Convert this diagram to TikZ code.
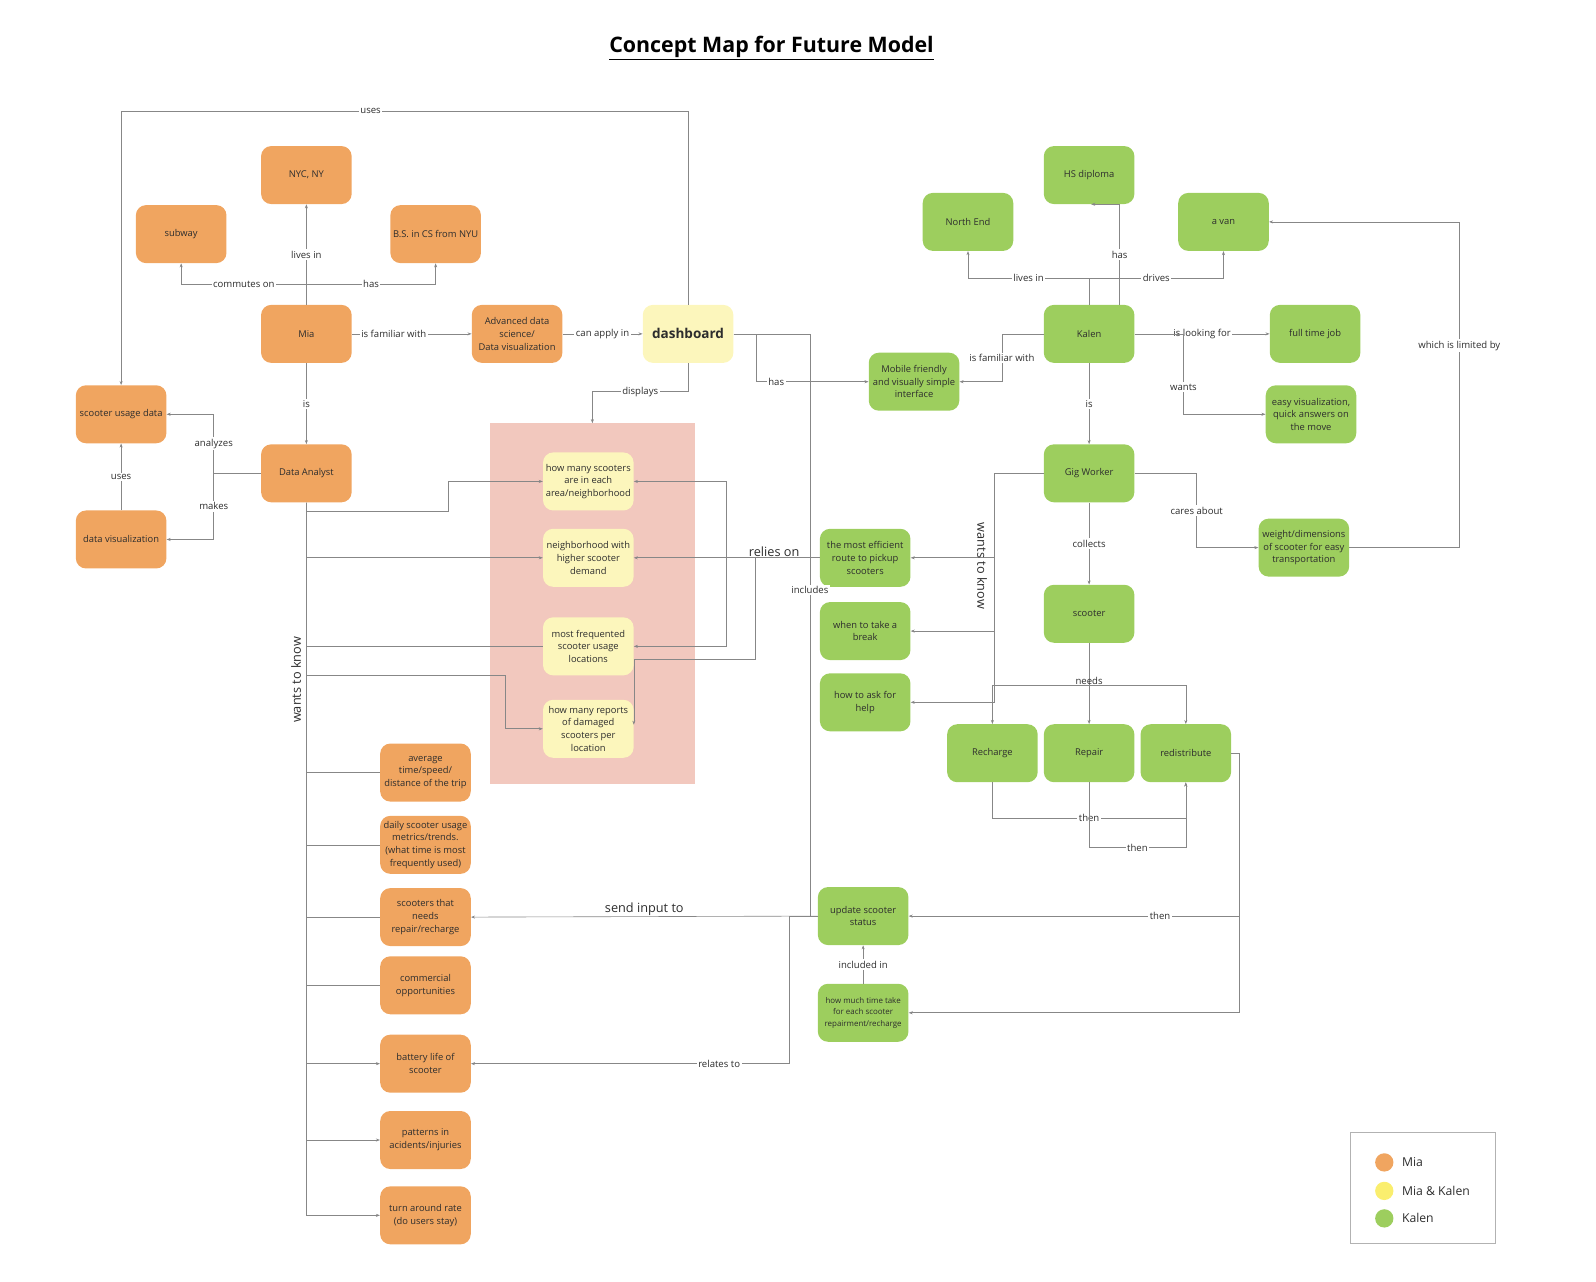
\documentclass[tikz,border=0pt]{standalone}
\usepackage{fontspec}
\setmainfont{Open Sans}
\usepackage{xcolor}
\usetikzlibrary{arrows.meta,calc}
\definecolor{miaorange}{RGB}{240,165,96}
\definecolor{bothyellow}{RGB}{252,246,188}
\definecolor{dotyellow}{RGB}{250,238,110}
\definecolor{kalengreen}{RGB}{157,206,94}
\definecolor{areapink}{RGB}{242,200,190}
\definecolor{linegray}{RGB}{135,135,135}
\definecolor{textgray}{RGB}{45,45,45}
\tikzset{
	concept/.style={
			rounded corners=10pt, minimum width=89pt, minimum height=57pt,
			inner sep=1pt, align=center, text=textgray,
			font=\fontsize{9.2}{12.5}\selectfont
		},
	miabox/.style={concept, fill=miaorange},
	bothbox/.style={concept, fill=bothyellow},
	kalenbox/.style={concept, fill=kalengreen}
}

\begin{document}
\begin{tikzpicture}[
    x=1pt, y=-1pt,
    con/.style={draw=linegray, line width=0.6pt},
    arr/.style={con, -{Stealth[length=4pt,width=3pt]}},
    lbl/.style={fill=white, inner sep=1.5pt, text=textgray, font=\fontsize{9.4}{11}\selectfont},
    biglbl/.style={inner sep=1pt, text=textgray, font=\fontsize{12.5}{15}\selectfont},
    dot/.style={circle, minimum size=18pt, inner sep=0pt},
    keytext/.style={anchor=west, text=textgray, font=\fontsize{12}{14}\selectfont, inner sep=0pt},
    ]
    \useasboundingbox (0,0) rectangle (1568,1259);

    \node[font=\bfseries\fontsize{21}{25}\selectfont] (title) at (758,47) {\underline{Concept Map for Future Model}};

    % Mia
    \node[miabox] (nyc) at (301,172) {NYC, NY};
    \node[miabox] (subway) at (178,230) {subway};
    \node[miabox] (bscs) at (428,230) {B.S. in CS from NYU};
    \node[miabox] (mia) at (301,328) {Mia};
    \node[miabox] (advds) at (508,328) {Advanced data\\science/\\Data visualization};
    \node[bothbox, font=\bfseries\fontsize{13.3}{15}\selectfont] (dash) at (676,328) {dashboard};
    \node[miabox] (sud) at (119,407) {scooter usage data};
    \node[miabox] (analyst) at (301,465) {Data Analyst};
    \node[miabox] (dviz) at (119,530) {data visualization};

    \node[fill=areapink, minimum width=202pt, minimum height=354pt] (area) at (582,593) {};
    \node[bothbox] (y1) at (578,473) {how many scooters\\are in each\\area/neighborhood};
    \node[bothbox] (y2) at (578,548) {neighborhood with\\higher scooter\\demand};
    \node[bothbox] (y3) at (578,635) {most frequented\\scooter usage\\locations};
    \node[bothbox] (y4) at (578,716) {how many reports\\of damaged\\scooters per\\location};

    \node[miabox] (o1) at (418,759) {average\\time/speed/\\distance of the trip};
    \node[miabox] (o2) at (418,830) {daily scooter usage\\metrics/trends.\\(what time is most\\frequently used)};
    \node[miabox] (o3) at (418,901) {scooters that\\needs\\repair/recharge};
    \node[miabox] (o4) at (418,968) {commercial\\opportunities};
    \node[miabox] (o5) at (418,1045) {battery life of\\scooter};
    \node[miabox] (o6) at (418,1120) {patterns in\\acidents/injuries};
    \node[miabox] (o7) at (418,1194) {turn around rate\\(do users stay)};

    % Kalen
    \node[kalenbox] (hsd) at (1070,172) {HS diploma};
    \node[kalenbox] (north) at (951,218) {North End};
    \node[kalenbox] (van) at (1202,218) {a van};
    \node[kalenbox] (kalen) at (1070,328) {Kalen};
    \node[kalenbox] (fulljob) at (1292,328) {full time job};
    \node[kalenbox] (mobile) at (898,375) {Mobile friendly\\and visually simple\\interface};
    \node[kalenbox] (easyvis) at (1288,407) {easy visualization,\\quick answers on\\the move};
    \node[kalenbox] (gig) at (1070,465) {Gig Worker};
    \node[kalenbox] (weight) at (1281,538) {weight/dimensions\\of scooter for easy\\transportation};
    \node[kalenbox] (route) at (850,548) {the most efficient\\route to pickup\\scooters};
    \node[kalenbox] (brk) at (850,620) {when to take a\\break};
    \node[kalenbox] (help) at (850,690) {how to ask for\\help};
    \node[kalenbox] (scooter) at (1070,603) {scooter};
    \node[kalenbox] (recharge) at (975,740) {Recharge};
    \node[kalenbox] (repair) at (1070,740) {Repair};
    \node[kalenbox] (redist) at (1165,740) {redistribute};
    \node[kalenbox] (update) at (848,900) {update scooter\\status};
    \node[kalenbox, font=\fontsize{7.8}{11}\selectfont] (timetake) at (848,995) {how much time take\\for each scooter\\repairment/recharge};

    % Mia connectors
    \draw[arr] (dash.north) -- ++(0,-190) -| node[lbl, pos=0.28] {uses} (sud.north);
    \draw[arr] (mia.north) -- node[lbl, pos=0.5] {lives in} (nyc.south);
    \coordinate (miaj) at (301,279);
    \draw[arr] (miaj) -| node[lbl, pos=0.25] {commutes on} (subway.south);
    \draw[arr] (miaj) -| node[lbl, pos=0.25] {has} (bscs.south);
    \draw[arr] (mia) -- node[lbl, pos=0.35] {is familiar with} (advds);
    \draw[arr] (advds) -- node[lbl] {can apply in} (dash);
    \draw[arr] (mia) -- node[lbl] {is} (analyst);
    \draw[arr] (dash.south) -- ++(0,28) -| node[lbl, pos=0.25] {displays} (area.north);
    \coordinate (anj) at (210,465);
    \draw[con] (analyst.west) -- (anj);
    \draw[arr] (anj) |- node[lbl, pos=0.25] {analyzes} (sud.east);
    \draw[arr] (anj) |- node[lbl, pos=0.25] {makes} (dviz.east);
    \draw[arr] (dviz) -- node[lbl] {uses} (sud);

    % wants to know
    \draw[arr] (analyst.south) -- ++(0,9) -- ++(139,0) |- (y1.west);
    \draw[arr] (analyst.south) |- (y2.west);
    \draw[con] (analyst.south) |- (y3.west);
    \draw[arr] (analyst.south) -- ++(0,170) -- ++(195,0) |- (y4.west);
    \draw[con] (analyst.south) |- (o1.west);
    \draw[con] (analyst.south) |- (o2.west);
    \draw[con] (analyst.south) |- (o3.west);
    \draw[con] (analyst.south) |- (o4.west);
    \draw[arr] (analyst.south) |- (o5.west);
    \draw[arr] (analyst.south) |- (o6.west);
    \draw[arr] (analyst.south) |- (o7.west);
    \node[biglbl, rotate=90] (wtkmia) at (291,668) {wants to know};

    % dashboard
    \draw[arr] (dash.east) -- ++(22,0) |- node[lbl, pos=0.59] {has} (mobile.west);
    \draw[con] (dash.east) -- ++(75,0) |- node[lbl, pos=0.22] {includes} (update.west);
    \draw[arr] (update.west) -- node[biglbl, above=0pt] {send input to} (o3.east);
    \draw[arr] (update.west) -- ++(-28,0) |- node[lbl, pos=0.61] {relates to} (o5.east);

    % relies on
    \draw[arr] (route.west) -- node[biglbl, above=0pt, pos=0.245] {relies on} (y2.east);
    \draw[arr] (route.west) -- ++(-92,0) |- (y1.east);
    \draw[arr] (route.west) -- ++(-92,0) |- (y3.east);
    \draw[arr] (route.west) -- ++(-63,0) -- ++(0,100) -| ([yshift=4pt]y4.east);

    % Kalen connectors
    \coordinate (kj) at (1070,273);
    \draw[con] (kalen.north) -- (kj);
    \draw[arr] (kj) -| node[lbl, pos=0.25] {lives in} (north.south);
    \draw[arr] (kj) -| node[lbl, pos=0.25] {drives} (van.south);
    \draw[arr] ([xshift=30pt]kalen.north) |- node[lbl, pos=0.25] {has} ([xshift=2pt]hsd.south);
    \draw[arr] (kalen.west) -- ++(-41,0) |- node[lbl, pos=0.25] {is familiar with} (mobile.east);
    \draw[arr] (kalen) -- node[lbl] {is looking for} (fulljob);
    \draw[arr] (kalen.east) -- ++(48,0) |- node[lbl, pos=0.33] {wants} (easyvis.west);
    \draw[arr] (kalen) -- node[lbl] {is} (gig);
    \draw[arr] (gig.east) -- ++(61,0) |- node[lbl, pos=0.25] {cares about} (weight.west);
    \draw[arr] (weight.east) -- ++(108,0) |- node[lbl, pos=0.31] {which is limited by} (van.east);
    \draw[arr] (gig.west) -- ++(-48,0) |- (route.east);
    \draw[arr] (gig.west) -- ++(-48,0) |- (brk.east);
    \draw[arr] (gig.west) -- ++(-48,0) |- (help.east);
    \node[biglbl, rotate=-90] (wtkkalen) at (965,556) {wants to know};
    \draw[arr] (gig) -- node[lbl] {collects} (scooter);
    \coordinate (sj) at (1070,673);
    \draw[arr] (sj) -| (recharge.north);
    \draw[arr] (sj) -- (repair.north);
    \draw[arr] (sj) -| (redist.north);
    \draw[con] (scooter.south) -- node[lbl, pos=0.9, fill=none] {needs} (sj);
    \draw[arr] (recharge.south) -- ++(0,35) -| node[lbl, pos=0.25] {then} (redist.south);
    \draw[arr] (repair.south) -- ++(0,64) -| node[lbl, pos=0.25] {then} (redist.south);
    \draw[arr] (redist.east) -- ++(8,0) |- node[lbl, pos=0.62] {then} (update.east);
    \draw[arr] (redist.east) -- ++(8,0) |- (timetake.east);
    \draw[arr] (timetake) -- node[lbl] {included in} (update);

    % legend
    \node[draw=black!30, line width=0.8pt, minimum width=142pt, minimum height=109pt] (legend) at (1398,1167) {};
    \node[dot, fill=miaorange] (dmia) at (1360,1142) {};
    \node[dot, fill=dotyellow] (dboth) at (1360,1170) {};
    \node[dot, fill=kalengreen] (dkalen) at (1360,1197) {};
    \node[keytext] (lmia) at ([xshift=8pt]dmia.east) {Mia};
    \node[keytext] (lboth) at ([xshift=8pt]dboth.east) {Mia \& Kalen};
    \node[keytext] (lkalen) at ([xshift=8pt]dkalen.east) {Kalen};
\end{tikzpicture}
\end{document}
